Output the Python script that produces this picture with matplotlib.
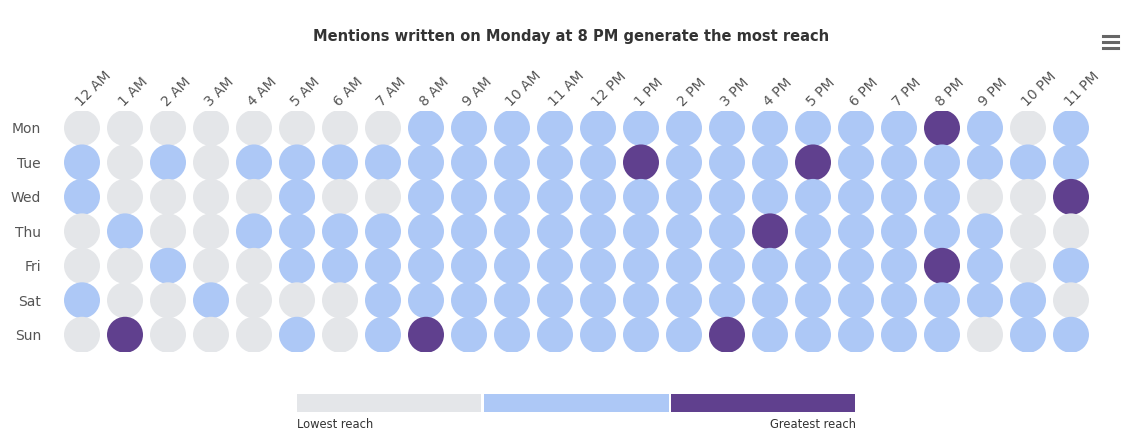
import numpy as np
import matplotlib
matplotlib.use("Agg")
import matplotlib.pyplot as plt
from matplotlib.lines import Line2D

hours = ["12 AM", "1 AM", "2 AM", "3 AM", "4 AM", "5 AM", "6 AM", "7 AM",
         "8 AM", "9 AM", "10 AM", "11 AM", "12 PM", "1 PM", "2 PM", "3 PM",
         "4 PM", "5 PM", "6 PM", "7 PM", "8 PM", "9 PM", "10 PM", "11 PM"]
days = ["Mon", "Tue", "Wed", "Thu", "Fri", "Sat", "Sun"]

# reach level per day/hour: 0 = lowest, 1 = medium, 2 = greatest
mon = [0, 0, 0, 0, 0, 0, 0, 0, 1, 1, 1, 1, 1, 1, 1, 1, 1, 1, 1, 1, 2, 1, 0, 1]
tue = [1, 0, 1, 0, 1, 1, 1, 1, 1, 1, 1, 1, 1, 2, 1, 1, 1, 2, 1, 1, 1, 1, 1, 1]
wed = [1, 0, 0, 0, 0, 1, 0, 0, 1, 1, 1, 1, 1, 1, 1, 1, 1, 1, 1, 1, 1, 0, 0, 2]
thu = [0, 1, 0, 0, 1, 1, 1, 1, 1, 1, 1, 1, 1, 1, 1, 1, 2, 1, 1, 1, 1, 1, 0, 0]
fri = [0, 0, 1, 0, 0, 1, 1, 1, 1, 1, 1, 1, 1, 1, 1, 1, 1, 1, 1, 1, 2, 1, 0, 1]
sat = [1, 0, 0, 1, 0, 0, 0, 1, 1, 1, 1, 1, 1, 1, 1, 1, 1, 1, 1, 1, 1, 1, 1, 0]
sun = [0, 2, 0, 0, 0, 1, 0, 1, 2, 1, 1, 1, 1, 1, 1, 2, 1, 1, 1, 1, 1, 0, 1, 1]

levels = np.array([mon, tue, wed, thu, fri, sat, sun])
level_colors = ["#e4e6e9", "#adc8f6", "#60408e"]
legend_labels = ["Lowest reach", "Greatest reach"]

W, H = 1140, 432
fig = plt.figure(figsize=(W / 100, H / 100), dpi=100)
fig.patch.set_facecolor("white")

# main grid axes (pixel box: x 60.5-1092.5, y 110.75-352)
ax = fig.add_axes([60.5 / W, 1 - 352 / H, (1092.5 - 60.5) / W, (352 - 110.75) / H])
yy, xx = np.indices(levels.shape)
cols = np.array(level_colors)[levels.ravel()]
ax.scatter(xx.ravel(), yy.ravel(), s=(36 * 0.72) ** 2, c=cols, linewidths=0, zorder=2)
ax.set_xlim(-0.5, len(hours) - 0.5)
ax.set_ylim(len(days) - 0.5, -0.5)
for s in ax.spines.values():
    s.set_visible(False)
ax.tick_params(length=0)
ax.set_yticks(range(len(days)))
ax.set_yticklabels(days, color="#555555", fontsize=10)
ax.tick_params(axis="y", pad=14)
ax.set_xticks([])
for i, h in enumerate(hours):
    ax.text(i - 0.1, -0.7, h, rotation=45, rotation_mode="anchor",
            ha="left", va="center", color="#555555", fontsize=10,
            transform=ax.transData)

fig.text(571 / W, 1 - 36 / H, "Mentions written on Monday at 8 PM generate the most reach",
         ha="center", va="center", fontsize=10.5, fontweight="bold", color="#333333")

# hamburger menu icon
for dy in (36, 42, 48):
    fig.add_artist(Line2D([1103 / W, 1118 / W], [1 - dy / H, 1 - dy / H],
                          color="#666666", lw=2.2))

# legend bar
lax = fig.add_axes([297 / W, 1 - 412 / H, (856 - 297) / W, 18 / H])
seg = 1.0 / len(level_colors)
for i, c in enumerate(level_colors):
    lax.barh(0, seg - 0.004, left=i * seg + (0.002 if i else 0), height=1, color=c)
lax.set_xlim(0, 1)
lax.set_ylim(-0.5, 0.5)
lax.axis("off")
fig.text(297 / W, 1 - 424 / H, legend_labels[0], ha="left", va="center",
         fontsize=8.3, color="#333333")
fig.text(856 / W, 1 - 424 / H, legend_labels[1], ha="right", va="center",
         fontsize=8.3, color="#333333")

fig.savefig("out.png", dpi=100, facecolor="white")
